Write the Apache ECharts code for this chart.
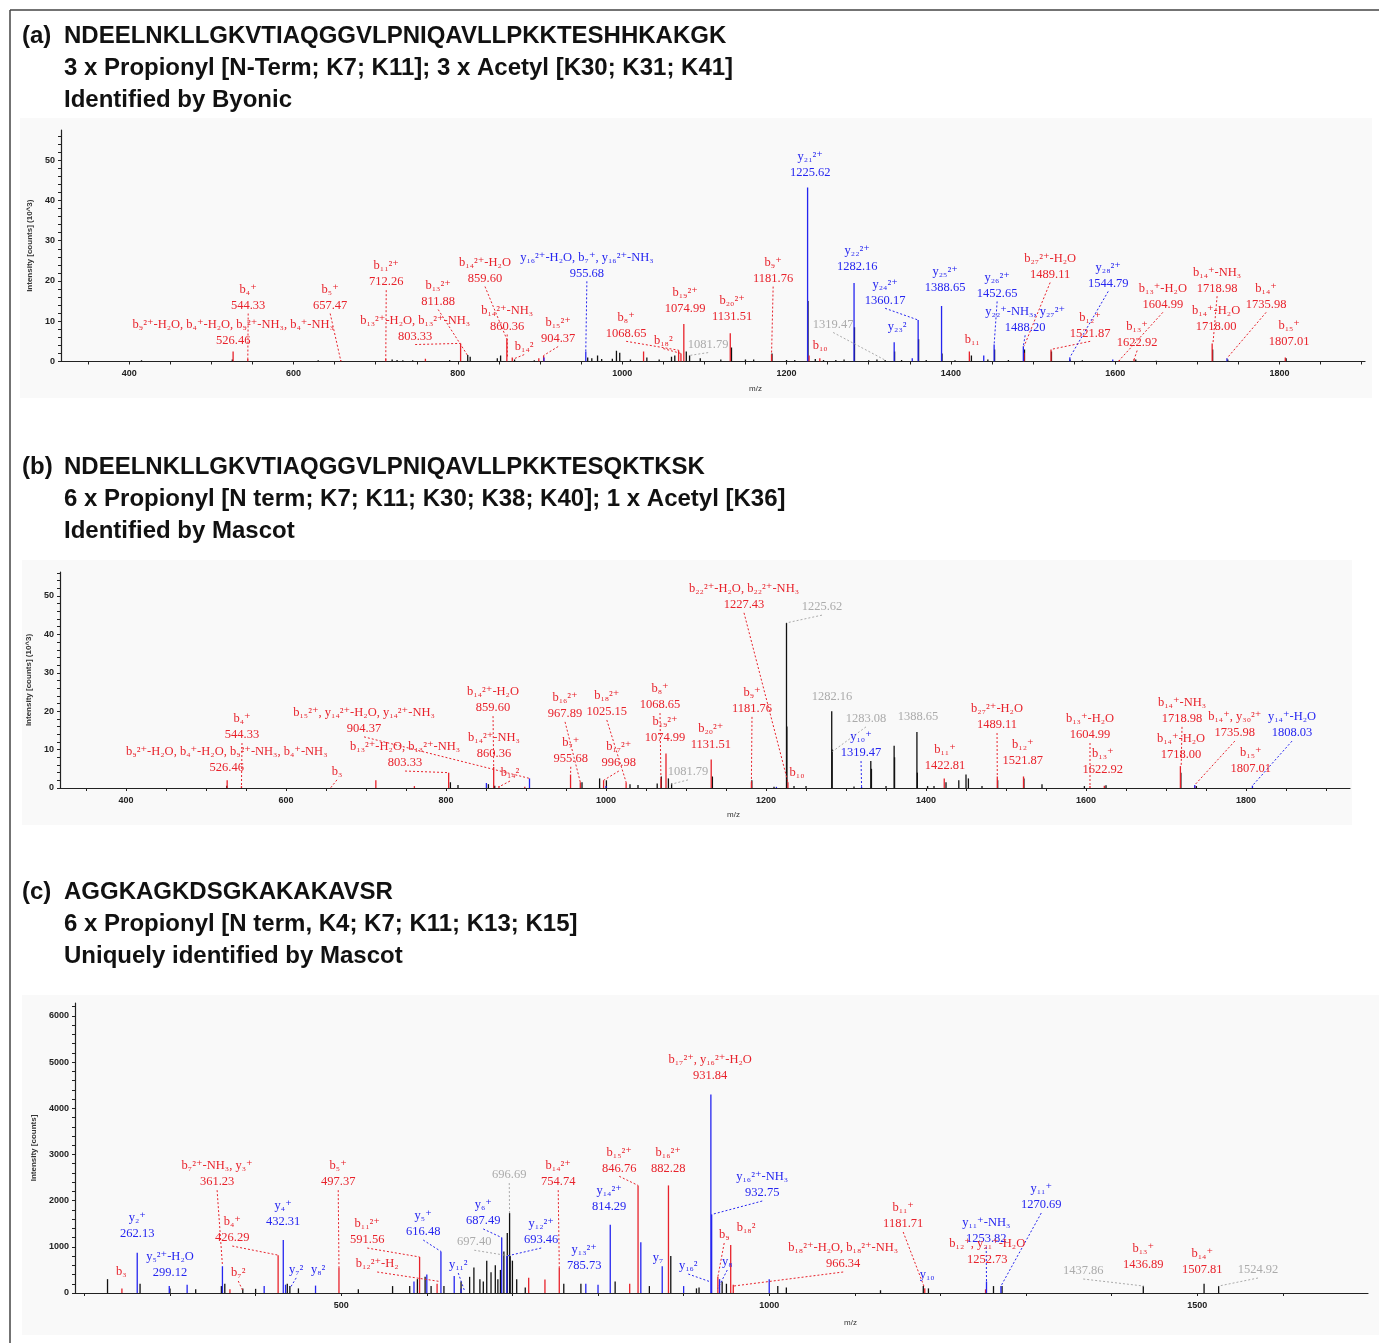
<!DOCTYPE html>
<html><head><meta charset="utf-8">
<script src="https://cdn.jsdelivr.net/npm/echarts@6/dist/echarts.min.js"></script>
<style>html,body{margin:0;padding:0;background:#fff}#c{width:1379px;height:1343px}</style>
</head><body><div id="c"></div>
<script>
// ---------------- Titles ----------------
const titleA = ['NDEELNKLLGKVTIAQGGVLPNIQAVLLPKKTESHHKAKGK', '3 x Propionyl [N-Term; K7; K11]; 3 x Acetyl [K30; K31; K41]', 'Identified by Byonic'];
const titleB = ['NDEELNKLLGKVTIAQGGVLPNIQAVLLPKKTESQKTKSK', '6 x Propionyl [N term; K7; K11; K30; K38; K40]; 1 x Acetyl [K36]', 'Identified by Mascot'];
const titleC = ['AGGKAGKDSGKAKAKAVSR', '6 x Propionyl [N term, K4; K7; K11; K13; K15]', 'Uniquely identified by Mascot'];

// ---------------- Axis ticks ----------------
const xLabelsAB = [400, 600, 800, 1000, 1200, 1400, 1600, 1800];
const xLabelsC = [500, 1000, 1500];
const yLabelsAB = [0, 10, 20, 30, 40, 50];
const yLabelsC = [0, 1000, 2000, 3000, 4000, 5000, 6000];

// ---------------- Panel (a) peaks ----------------
const aBMz  = [526.46,544.33,657.47,712.26,760.5,803.33,859.60,866.2,898.5,904.37,1026.0,1068.65,1071.5,1074.99,1131.51,1181.76,1227.4,1240.5,1422.5,1489.11,1521.87,1604.99,1622.92,1718.00,1807.01];
const aBInt = [2.5,0.6,0.4,0.7,0.7,4.5,5.5,1.0,0.8,1.5,2.5,2.8,2.0,9.3,7.0,1.8,1.5,0.8,2.5,2.2,3.0,0.4,0.6,4.5,1.0];
const aYMz  = [904.8,955.68,1225.62,1282.16,1331.0,1353.0,1360.17,1388.65,1440.0,1452.65,1488.20,1544.79,1597.0,1736.0];
const aYInt = [1.0,2.5,43.2,19.5,4.8,0.8,10.3,13.8,1.5,4.2,3.8,1.0,0.5,0.8];
const aUMz  = [415,525.5,630,720,726,733,745,790,812,815,848,852,869,893,958,963,970,975,988,993,997,1010,1030,1045,1060,1064,1078,1082,1095,1120,1133,1150,1160,1182.3,1200,1210,1226.1,1235,1245,1260,1270,1282.7,1300,1310,1320,1331.5,1340,1360.7,1370,1389.2,1405,1425,1445,1453.2,1470,1489.6,1522.4,1545,1560,1625,1650,1718.6,1737,1808];
const aUInt = [0.3,0.5,0.3,0.5,0.4,0.3,0.3,0.4,1.6,1.2,0.8,1.5,0.5,0.3,1.0,0.8,1.5,0.6,0.7,2.7,2.2,0.5,1.0,0.5,1.2,1.5,2.5,1.5,0.8,0.5,3.5,0.5,0.5,2.0,0.4,0.4,15,0.6,0.4,0.4,0.5,8.5,0.3,0.5,0.4,2.5,0.4,5.5,0.4,2,0.3,1.5,0.5,3,0.4,3,2.5,0.5,0.3,0.5,0.2,3,0.5,0.8];

// ---------------- Panel (a) annotations ----------------
const aLabels = [
 'b₉²⁺-H₂O, b₄⁺-H₂O, b₉²⁺-NH₃, b₄⁺-NH₃\n526.46', 'b₄⁺\n544.33', 'b₅⁺\n657.47', 'b₁₁²⁺\n712.26', 'b₁₃²⁺\n811.88',
 'b₁₃²⁺-H₂O, b₁₃²⁺-NH₃\n803.33', 'b₁₄²⁺-H₂O\n859.60', 'b₁₄²⁺-NH₃\n860.36', 'b₁₄²', 'b₁₅²⁺\n904.37',
 'y₁₆²⁺-H₂O, b₇⁺, y₁₆²⁺-NH₃\n955.68', 'b₈⁺\n1068.65', 'b₁₈²', 'b₁₉²⁺\n1074.99', '1081.79',
 'b₂₀²⁺\n1131.51', 'b₉⁺\n1181.76', 'y₂₁²⁺\n1225.62', 'b₁₀', 'y₂₂²⁺\n1282.16',
 '1319.47', 'y₂₄²⁺\n1360.17', 'y₂₃²', 'y₂₅²⁺\n1388.65', 'b₁₁',
 'y₂₆²⁺\n1452.65', 'y₂₂⁺-NH₃, y₂₇²⁺\n1488.20', 'b₂₇²⁺-H₂O\n1489.11', 'b₁₂⁺\n1521.87', 'y₂₈²⁺\n1544.79',
 'b₁₃⁺-H₂O\n1604.99', 'b₁₃⁺\n1622.92', 'b₁₄⁺-NH₃\n1718.98', 'b₁₄⁺-H₂O\n1718.00', 'b₁₄⁺\n1735.98', 'b₁₅⁺\n1807.01'];
const aLabelIon = ['b','b','b','b','b','b','b','b','b','b','y','b','b','b','g','b','b','y','b','y','g','y','y','y','b','y','y','b','b','y','b','b','b','b','b','b'];
const aTargetMz  = [null,544.33,657.47,712.26,811.88,803.33,859.60,860.36,866.2,904.37,955.68,1068.65,1071.5,null,1081.79,null,1181.76,null,null,null,1319.47,1360.17,null,null,null,1452.65,1488.20,1489.11,1521.87,1544.79,1604.99,1622.92,1718.98,null,1735.98,null];
const aTargetInt = [null,0.3,0.2,0.4,1.5,4.5,5.5,1.0,0.5,1.5,2.5,2.8,2.0,null,1.5,null,1.8,null,null,null,0.4,10.3,null,null,null,4.2,3.8,3.8,3.0,1.0,0.3,0.5,4.5,null,0.8,null];
const aLabelPos = [[526.6,5.2],[544.8,13.9],[644.6,13.9],[712.8,19.7],[776,14.9],[748,6.2],[833,20.6],[860,8.7],[880.7,3.7],[922,5.7],[957,21.9],[1004.8,7.0],[1050,5.2],[1076.6,13.2],[1104.6,4.2],[1133.8,11.2],[1183.7,20.6],[1228.8,47],[1241,4.0],[1286,23.6],[1256.7,9.2],[1320,15.2],[1334.6,8.7],[1393,18.4],[1426,5.5],[1456.3,16.9],[1490.4,8.5],[1520.8,21.6],[1569.5,7.0],[1591.5,19.4],[1658,14.2],[1626.7,4.7],[1724,18.2],[1722.8,8.7],[1783.7,14.2],[1811.7,5.0]];

// ---------------- Panel (b) peaks ----------------
const bBMz  = [526.46,544.33,712.3,760.5,803.33,859.60,866.2,898.5,955.68,967.89,996.98,1025.15,1068.65,1074.99,1131.51,1181.76,1227.43,1422.81,1489.11,1521.87,1604.99,1622.92,1718.00,1736.0];
const bBInt = [2.0,0.5,2.0,0.5,4.0,5.5,0.5,0.3,3.5,1.5,2.0,1.5,2.5,9.0,7.4,1.5,1.5,2.5,3.0,3.0,0.5,0.6,5.7,0.5];
const bYMz  = [850.5,904.37,1000,1213,1319.47,1735.98,1808.03];
const bYInt = [1.3,2.5,0.5,0.3,0.3,0.8,0.6];
const bUMz  = [526.0,805.5,815,853,860.9,970,992,1000.5,1030,1040,1064,1069.2,1078,1082,1133,1182.3,1210,1225.62,1226.1,1235,1250,1282.16,1282.7,1310,1331,1331.8,1350,1360.17,1360.7,1388.65,1389.2,1402,1410,1425,1441,1450,1453,1470,1489.6,1522.4,1545,1598,1625,1718.6,1738];
const bUInt = [0.6,1.5,0.8,1.0,0.6,1.5,2.5,2.0,1.0,0.8,1.2,3.0,2.5,1.2,3.0,2.0,0.3,43,16,0.5,0.5,20,10,0.4,7,5,0.5,11,8,14.6,4,0.5,0.5,1.5,2,3.5,2.5,0.5,2,2.5,1,0.5,0.7,4,0.5];

// ---------------- Panel (b) annotations ----------------
const bLabels = [
 'b₉²⁺-H₂O, b₄⁺-H₂O, b₉²⁺-NH₃, b₄⁺-NH₃\n526.46', 'b₄⁺\n544.33', 'b₃', 'b₁₃²⁺-H₂O, b₁₃²⁺-NH₃\n803.33', 'b₁₅²⁺, y₁₄²⁺-H₂O, y₁₄²⁺-NH₃\n904.37',
 'b₁₄²⁺-H₂O\n859.60', 'b₁₄²⁺-NH₃\n860.36', 'b₁₄²', 'b₁₆²⁺\n967.89', 'b₇⁺\n955.68',
 'b₁₈²⁺\n1025.15', 'b₁₇²⁺\n996.98', 'b₈⁺\n1068.65', 'b₁₉²⁺\n1074.99', '1081.79',
 'b₂₀²⁺\n1131.51', 'b₉⁺\n1181.76', 'b₂₂²⁺-H₂O, b₂₂²⁺-NH₃\n1227.43', '1225.62', 'b₁₀',
 '1282.16', '1283.08', 'y₁₀⁺\n1319.47', '1388.65', 'b₁₁⁺\n1422.81',
 'b₂₇²⁺-H₂O\n1489.11', 'b₁₂⁺\n1521.87', 'b₁₃⁺-H₂O\n1604.99', 'b₁₃⁺\n1622.92', 'b₁₄⁺-NH₃\n1718.98',
 'b₁₄⁺-H₂O\n1718.00', 'b₁₄⁺, y₃₀²⁺\n1735.98', 'y₁₄⁺-H₂O\n1808.03', 'b₁₅⁺\n1807.01'];
const bLabelIon = ['b','b','b','b','b','b','b','b','b','b','b','b','b','b','g','b','b','b','g','b','g','g','y','g','b','b','b','b','b','b','b','b','y','b'];
const bTargetMz  = [null,544.33,656,803.33,904.37,859.60,null,866.2,967.89,955.68,1025.15,996.98,1068.65,null,1081.79,null,1181.76,1227.43,1225.62,null,null,1283.08,1319.47,null,null,1489.11,null,1604.99,null,1718.98,null,1735.98,1808.03,null];
const bTargetInt = [null,0.3,0.1,4.0,2.5,5.5,null,0.3,1.5,3.5,1.5,2.0,2.5,null,1.0,null,1.5,1.5,43,null,null,9.5,0.3,null,null,3.0,null,0.5,null,5.7,null,0.8,0.6,null];
const bLabelPos = [[526,5.2],[545,13.8],[663.7,4.2],[748.8,6.5],[697.5,15.4],[858.8,20.8],[860,8.9],[880,3.9],[948.8,19.3],[956,7.6],[1001,19.8],[1016,6.5],[1067.5,21.6],[1073.8,13.0],[1102.5,4.2],[1131,11.2],[1182.5,20.6],[1172.5,47.7],[1270,47.1],[1238.8,3.9],[1282.5,23.7],[1325,18.0],[1318.8,9.1],[1390,18.5],[1423.8,5.7],[1488.8,16.4],[1521,7.0],[1605,13.8],[1621,4.7],[1720,18.0],[1718.8,8.6],[1786,14.3],[1857.5,14.3],[1806,5.0]];

// ---------------- Panel (c) peaks ----------------
const cBMz  = [243.8,370,426.29,497.37,591.56,612,719,738,754.74,837,846.76,882.28,940,955,958,1181.71,1252.73];
const cBInt = [100,80,820,560,780,200,330,290,560,200,2330,2330,350,1040,180,100,80];
const cYMz  = [261.7,299.12,320,361.23,410,432.31,435,470,585,600,616.48,632,640,687.49,693.46,785.73,800,814.29,850,875,900,931.84,932.75,942,1000,1253.82,1270.69];
const cYInt = [870,150,180,580,150,1150,180,160,250,400,900,370,100,1200,800,200,180,1480,1100,580,150,4300,1700,300,300,250,150];
const cUMz  = [227,265,300,330,360,364,385,400,437,440,450,520,560,580,589,598,605,620,640,650,655,662,666,670,675,680,683,686,690,694,696.69,697.4,700,705,715,760,780,820,860,885,915,918,945,950,1010,1020,1130,1180,1186,1262,1272,1437,1508,1525];
const cUInt = [300,200,100,80,150,200,100,90,200,150,100,80,150,150,300,350,150,150,250,350,550,300,250,700,450,600,300,500,900,1300,1730,800,700,300,120,200,200,250,150,800,100,120,250,200,150,120,60,150,100,150,150,150,200,150];

// ---------------- Panel (c) annotations ----------------
const cLabels = [
 'b₃', 'y₂⁺\n262.13', 'y₅²⁺-H₂O\n299.12', 'b₇²⁺-NH₃, y₃⁺\n361.23', 'b₄⁺\n426.29',
 'b₇²', 'y₄⁺\n432.31', 'y₇²', 'y₈²', 'b₅⁺\n497.37',
 'b₁₁²⁺\n591.56', 'b₁₂²⁺-H₂', 'y₅⁺\n616.48', 'y₁₁²', '696.69',
 '697.40', 'y₆⁺\n687.49', 'y₁₂²⁺\n693.46', 'b₁₄²⁺\n754.74', 'y₁₃²⁺\n785.73',
 'y₁₄²⁺\n814.29', 'b₁₅²⁺\n846.76', 'b₁₆²⁺\n882.28', 'y₇', 'y₁₆²',
 'b₁₇²⁺, y₁₆²⁺-H₂O\n931.84', 'y₁₆²⁺-NH₃\n932.75', 'b₉', 'y₈', 'b₁₈²',
 'b₁₈²⁺-H₂O, b₁₈²⁺-NH₃\n966.34', 'b₁₁⁺\n1181.71', 'y₁₀', 'y₁₁⁺-NH₃\n1253.82', 'y₁₁⁺\n1270.69',
 'b₁₂⁺, y₂₁⁺-H₂O\n1252.73', '1437.86', 'b₁₃⁺\n1436.89', 'b₁₄⁺\n1507.81', '1524.92'];
const cLabelIon = ['b','y','y','b','b','b','y','y','y','b','b','b','y','y','g','g','y','y','b','y','y','b','b','y','y','b','y','b','y','b','b','b','y','y','y','b','g','b','b','g'];
const cTargetMz  = [null,null,null,361.23,426.29,385,null,440,null,497.37,591.56,615,616.48,644,696.69,697.4,687.49,693.46,754.74,null,null,846.76,null,null,930,null,932.75,940,940,null,958,1181.71,null,1253.82,1270.69,null,1437.86,null,null,1524.92];
const cTargetInt = [null,null,null,600,820,50,null,100,null,560,780,250,900,50,1730,800,1200,800,560,null,null,2330,null,null,250,null,1700,350,100,null,150,100,null,250,150,null,150,null,null,150];
const cLabelPos = [[243,455],[261.7,1277],[300,433],[355,2400],[372.7,1190],[379.7,433],[432.2,1537],[447.4,500],[473,500],[496.5,2400],[530.4,1147],[542,628],[595.8,1320],[636.7,606],[696.3,2554],[655.4,1100],[665.9,1560],[733.6,1147],[753.5,2400],[783.9,584],[813,1860],[824.8,2700],[882,2700],[870,758],[905.4,584],[931,4697],[991.8,2165],[947.4,1255],[951,671],[973,1407],[1086.4,628],[1156.5,1494],[1184.6,390],[1253.5,1169],[1317.8,1905],[1254.7,714],[1366.8,476],[1436.9,606],[1505.8,498],[1571,498]];

// ---------------- rendering ----------------
const COL = {b:'#e8222b', y:'#2525f0', u:'#111111', g:'#ababab'};
const LFONT = '12.5px "Liberation Serif", "DejaVu Serif", serif';
const LH = 16;

function peakSeries(idx, mz, ints, ion) {
  return {
    type:'custom', xAxisIndex:idx, yAxisIndex:idx, silent:true, clip:true,
    data: mz.map((m,i)=>[m, ints[i]]), encode:{x:0,y:1},
    renderItem:(params, api)=>{
      const p0 = api.coord([api.value(0), 0]);
      const p1 = api.coord([api.value(0), api.value(1)]);
      return {type:'line', shape:{x1:p0[0],y1:p0[1],x2:p1[0],y2:p1[1]}, style:{stroke:COL[ion], lineWidth:1.3}};
    }
  };
}
function annSeries(idx, labels, ions, tMz, tInt, pos) {
  return {
    type:'custom', xAxisIndex:idx, yAxisIndex:idx, silent:true, clip:false, z:5,
    data: pos.map((p,i)=>[p[0], p[1], i]), encode:{x:0,y:1},
    renderItem:(params, api)=>{
      const i = api.value(2);
      const p = api.coord([api.value(0), api.value(1)]);
      const col = COL[ions[i]];
      const lines = labels[i].split('\n');
      const children = [];
      lines.forEach((t,k)=>{
        children.push({type:'text', style:{text:t, x:p[0], y:p[1]-(lines.length-1-k)*LH, fill:col, font:LFONT,
          align:'center', verticalAlign:'middle', textAlign:'center', textVerticalAlign:'middle'}});
      });
      if (tMz[i] !== null) {
        const t = api.coord([tMz[i], tInt[i]]);
        children.push({type:'line', shape:{x1:p[0], y1:p[1]+8, x2:t[0], y2:t[1]},
          style:{stroke:col, lineWidth:1, lineDash:[2,2]}});
      }
      return {type:'group', children};
    }
  };
}
function range(a,b,s){const r=[];for(let v=a;v<=b+1e-9;v+=s)r.push(v);return r;}

const tickFont = {fontFamily:'"Liberation Sans", Arial, sans-serif', fontSize:9, color:'#222', fontWeight:'bold', formatter:(v)=>String(v)};
function xAx(idx, min, max, labels, ticks) {
  return {gridIndex:idx, type:'value', min, max, splitLine:{show:false},
    axisLine:{show:true, onZero:false, lineStyle:{color:'#222', width:1.2}},
    axisTick:{show:true, customValues:ticks, length:3, lineStyle:{color:'#222'}},
    axisLabel:{customValues:labels, margin:8, ...tickFont}};
}
function yAx(idx, max, labels, ticks, name) {
  return {gridIndex:idx, type:'value', min:0, max, splitLine:{show:false},
    name, nameLocation:'middle', nameGap:27, nameRotate:90,
    nameTextStyle:{fontFamily:'"Liberation Sans", Arial, sans-serif', fontSize:8, color:'#333', fontWeight:'bold'},
    axisLine:{show:true, onZero:false, lineStyle:{color:'#222', width:1.2}},
    axisTick:{show:true, customValues:ticks, length:3, lineStyle:{color:'#222'}},
    axisLabel:{customValues:labels, margin:6, ...tickFont}};
}

const TFONT = 'bold 24px "Liberation Sans", Arial, sans-serif';
function titleGraphics(letter, lines, y0) {
  const g = [{type:'text', left:22, top:y0-10, style:{text:letter, font:TFONT, fill:'#111'}}];
  lines.forEach((t,k)=>g.push({type:'text', left:64, top:y0-10+k*32, style:{text:t, font:TFONT, fill:'#111'}}));
  return g;
}
const SMALL = '8px "Liberation Sans", Arial, sans-serif';

const chart = echarts.init(document.getElementById('c'), null, {renderer:'canvas'});
chart.setOption({
  animation:false,
  backgroundColor:'#ffffff',
  graphic:[
    {type:'rect', shape:{x:20,y:118,width:1352,height:280}, style:{fill:'#f9f9f9'}, z:-10},
    {type:'rect', shape:{x:22,y:560,width:1330,height:265}, style:{fill:'#f9f9f9'}, z:-10},
    {type:'rect', shape:{x:22,y:995,width:1357,height:340}, style:{fill:'#f9f9f9'}, z:-10},
    {type:'line', shape:{x1:10,y1:10,x2:1379,y2:10}, style:{stroke:'#444', lineWidth:1.5}},
    {type:'line', shape:{x1:10,y1:10,x2:10,y2:1343}, style:{stroke:'#444', lineWidth:1.5}},
    ...titleGraphics('(a)', titleA, 34),
    ...titleGraphics('(b)', titleB, 465),
    ...titleGraphics('(c)', titleC, 890),
    {type:'text', x:749, y:385, style:{text:'m/z', font:SMALL, fill:'#333'}},
    {type:'text', x:727, y:811, style:{text:'m/z', font:SMALL, fill:'#333'}},
    {type:'text', x:844, y:1319, style:{text:'m/z', font:SMALL, fill:'#333'}}
  ],
  grid:[
    {left:61, top:130, width:1304, height:231.5},
    {left:60, top:572, width:1290, height:216},
    {left:75, top:1003, width:1293, height:290}
  ],
  xAxis:[
    xAx(0, 317, 1904, xLabelsAB, range(350,1900,50)),
    xAx(1, 317.5, 1930, xLabelsAB, range(350,1900,50)),
    xAx(2, 189, 1699.5, xLabelsC, range(200,1700,100))
  ],
  yAxis:[
    yAx(0, 57.5, yLabelsAB, range(0,56,2), 'Intensity [counts] (10^3)'),
    yAx(1, 56.25, yLabelsAB, range(0,56,2), 'Intensity [counts] (10^3)'),
    yAx(2, 6280, yLabelsC, range(0,6200,200), 'Intensity [counts]')
  ],
  series:[
    peakSeries(0, aUMz, aUInt, 'u'), peakSeries(0, aBMz, aBInt, 'b'), peakSeries(0, aYMz, aYInt, 'y'),
    annSeries(0, aLabels, aLabelIon, aTargetMz, aTargetInt, aLabelPos),
    peakSeries(1, bUMz, bUInt, 'u'), peakSeries(1, bBMz, bBInt, 'b'), peakSeries(1, bYMz, bYInt, 'y'),
    annSeries(1, bLabels, bLabelIon, bTargetMz, bTargetInt, bLabelPos),
    peakSeries(2, cUMz, cUInt, 'u'), peakSeries(2, cBMz, cBInt, 'b'), peakSeries(2, cYMz, cYInt, 'y'),
    annSeries(2, cLabels, cLabelIon, cTargetMz, cTargetInt, cLabelPos)
  ]
});
</script></body></html>
